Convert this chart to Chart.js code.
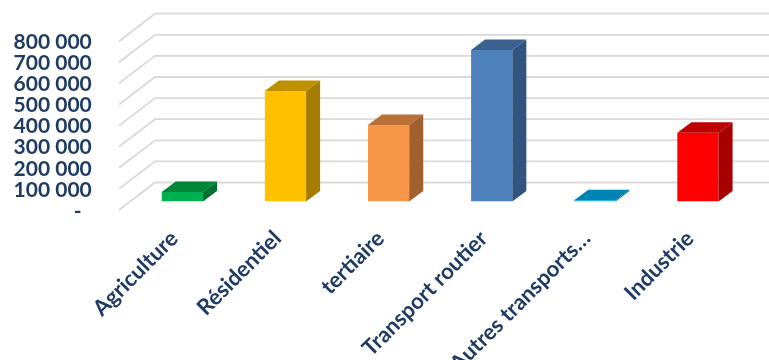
<!DOCTYPE html>
<html>
<head>
<meta charset="utf-8">
<script src="https://cdn.jsdelivr.net/npm/chart.js@4/dist/chart.umd.min.js"></script>
<style>
body { margin: 0; background: #fff; overflow: hidden; }
</style>
</head>
<body>
<canvas id="barChart" width="769" height="360"></canvas>
<script>
const categories = ['Agriculture', 'Résidentiel', 'tertiaire', 'Transport routier', 'Autres transports…', 'Industrie'];
const values = [45000, 524000, 362000, 718000, 6000, 326000];
const tickLabels = ['-\u00a0\u00a0', '100 000', '200 000', '300 000', '400 000', '500 000', '600 000', '700 000', '800 000'];
const frontColors = ['#00b050', '#ffc000', '#f79646', '#4f81bd', '#00b0f0', '#ff0000'];
const topColors = ['#008539', '#bf9000', '#b87035', '#3a6190', '#0084b4', '#bf0000'];
const sideColors = ['#006f30', '#a67c00', '#a0612e', '#325480', '#00729c', '#a60000'];

const textColor = '#1f3b63';
const gridColor = '#d9d9d9';

// fake 3D: bar depth and how far the walls sit from the bar plane
const barDepth = { x: 14, y: 10.5 };
const wallBack = { x: 24.2, y: 19 };
const wallFront = { x: 11.8, y: 8.5 };

const fake3d = {
    id: 'fake3d',
    beforeDatasetsDraw(chart) {
        const c = chart.ctx;
        const yScale = chart.scales.y;
        const left = chart.chartArea.left;
        c.save();
        c.strokeStyle = gridColor;
        c.lineWidth = 1.8;
        tickLabels.forEach((t, i) => {
            const py = yScale.getPixelForValue(i * 100000);
            c.beginPath();
            c.moveTo(left - wallFront.x, py + wallFront.y);
            c.lineTo(left + wallBack.x, py - wallBack.y);
            c.lineTo(chart.width, py - wallBack.y);
            c.stroke();
        });
        c.restore();
    },
    afterDatasetsDraw(chart) {
        const c = chart.ctx;
        const meta = chart.getDatasetMeta(0);
        c.save();
        meta.data.forEach((bar, i) => {
            const p = bar.getProps(['x', 'y', 'base', 'width']);
            const l = p.x - p.width / 2;
            const r = p.x + p.width / 2;
            // top face
            c.fillStyle = topColors[i];
            c.beginPath();
            c.moveTo(l, p.y);
            c.lineTo(l + barDepth.x, p.y - barDepth.y);
            c.lineTo(r + barDepth.x, p.y - barDepth.y);
            c.lineTo(r, p.y);
            c.closePath();
            c.fill();
            // side face
            c.fillStyle = sideColors[i];
            c.beginPath();
            c.moveTo(r, p.y);
            c.lineTo(r + barDepth.x, p.y - barDepth.y);
            c.lineTo(r + barDepth.x, p.base - barDepth.y);
            c.lineTo(r, p.base);
            c.closePath();
            c.fill();
        });
        c.restore();
    }
};

const ctx = document.getElementById('barChart').getContext('2d');
const barChart = new Chart(ctx, {
    type: 'bar',
    data: {
        labels: categories,
        datasets: [{
            data: values,
            backgroundColor: frontColors,
            borderWidth: 0,
            barPercentage: 0.4,
            categoryPercentage: 1
        }]
    },
    options: {
        responsive: false,
        animation: false,
        layout: { padding: { top: 32.7, right: 19.5, left: 0, bottom: 0 } },
        scales: {
            x: {
                grid: { display: false, drawTicks: false },
                border: { display: false },
                afterFit(scale) { scale.height = 158.5; scale.paddingLeft = 0; scale.paddingRight = 0; },
                ticks: {
                    autoSkip: false,
                    minRotation: 45,
                    maxRotation: 45,
                    padding: 24,
                    labelOffset: -8,
                    color: textColor,
                    font: { family: 'Lato', weight: 'bold', size: 22 }
                }
            },
            y: {
                min: 0,
                max: 800000,
                grid: { display: false, drawTicks: false },
                border: { display: false },
                afterFit(scale) { scale.width = 130.8; scale.paddingTop = 0; scale.paddingBottom = 0; },
                ticks: {
                    autoSkip: false,
                    stepSize: 100000,
                    padding: 39,
                    labelOffset: 9.5,
                    color: textColor,
                    font: { family: 'Lato', weight: 'bold', size: 21 },
                    callback: (v, i) => tickLabels[i]
                }
            }
        },
        plugins: {
            legend: { display: false },
            tooltip: { enabled: false }
        }
    },
    plugins: [fake3d]
});
</script>
</body>
</html>
